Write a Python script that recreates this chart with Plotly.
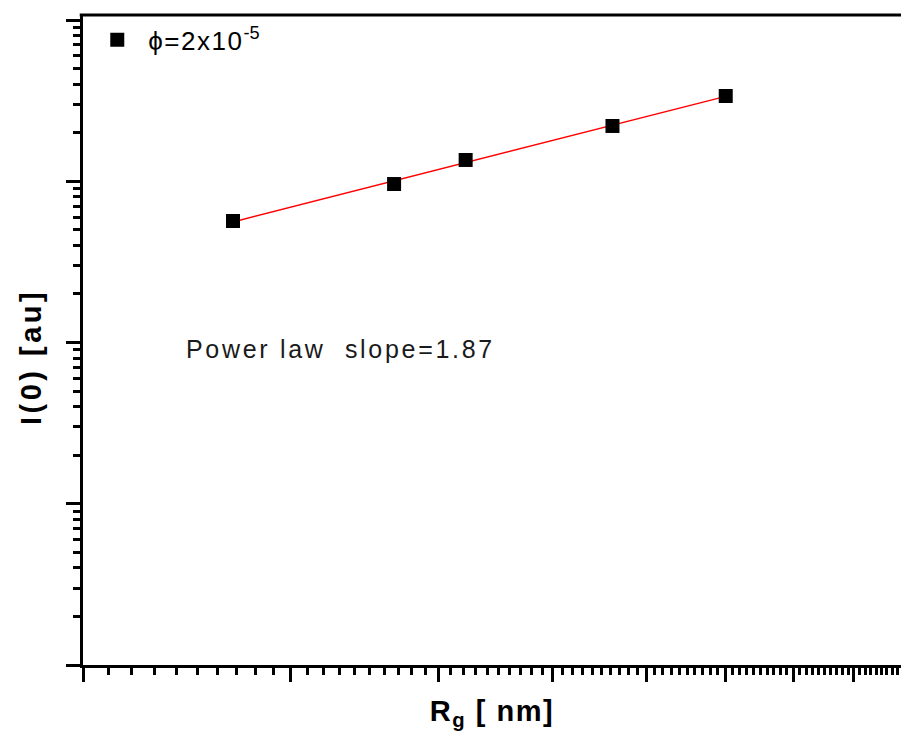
import numpy as np
import plotly.graph_objects as go

# Radius of gyration (nm) and forward scattering intensity I(0)
rg_nm = [2.68, 3.67, 4.22, 5.62, 7.01]
i0_au = [567, 961, 1355, 2202, 3378]

series_name = "<span style='letter-spacing:1.5px'>\u03d5=2x10</span><sup>-5</sup>"
fit_label = "<span style='letter-spacing:2.7px'>Power law\u00a0 slope=1.87</span>"
x_title = "<b><span style='letter-spacing:1.5px'>R<sub>g</sub> [ nm]</span></b>"
y_title = "<b><span style='letter-spacing:3.5px'>I(0) [au]</span></b>"

# power-law fit in log-log space
lx = np.log10(rg_nm)
ly = np.log10(i0_au)
p = np.polyfit(lx, ly, 1)
fit_x = np.array([rg_nm[0], rg_nm[-1]])
fit_y = 10 ** np.polyval(p, np.log10(fit_x))

fig = go.Figure()
fig.add_trace(go.Scatter(
    x=fit_x, y=fit_y, mode="lines",
    line=dict(color="#ff0000", width=1.5),
    showlegend=False, hoverinfo="skip",
))
fig.add_trace(go.Scatter(
    x=rg_nm, y=i0_au, mode="markers", name=series_name,
    marker=dict(symbol="square", size=14, color="black"),
))

x_major = list(range(2, 11))
x_minor = [round(m + k / 10, 1) for m in range(2, 10) for k in range(1, 10)]
y_major = [10 ** k for k in range(0, 5)]
y_minor = [m * 10 ** k for k in range(0, 4) for m in range(2, 10)]

axis_common = dict(
    type="log", showgrid=False, zeroline=False,
    showline=True, linecolor="black", linewidth=3,
    ticks="outside", ticklen=14, tickwidth=3, tickcolor="black",
    showticklabels=False,
)

fig.update_layout(
    width=901, height=739,
    margin=dict(l=83, r=0, t=15, b=74),
    paper_bgcolor="white", plot_bgcolor="white",
    font=dict(family="Liberation Sans, Arial, sans-serif", color="black"),
    xaxis=dict(
        **axis_common,
        range=[np.log10(2), np.log10(2) + 818 / 1180],
        tickmode="array", tickvals=x_major,
        minor=dict(tickmode="array", tickvals=x_minor, ticks="outside",
                   ticklen=7, tickwidth=3, tickcolor="black", showgrid=False),
        title=dict(text=x_title, font=dict(size=29), standoff=20),
    ),
    yaxis=dict(
        **axis_common,
        range=[0, 4.031],
        tickmode="array", tickvals=y_major,
        minor=dict(tickmode="array", tickvals=y_minor, ticks="outside",
                   ticklen=7, tickwidth=3, tickcolor="black", showgrid=False),
    ),
    showlegend=True,
    legend=dict(
        x=0.004, y=0.998, xanchor="left", yanchor="top",
        bgcolor="rgba(0,0,0,0)", borderwidth=0, itemwidth=52,
        font=dict(size=26, family="Liberation Sans, Arial, sans-serif"),
    ),
    shapes=[dict(type="line", xref="paper", yref="paper",
                 x0=-0.004, x1=1, y0=1, y1=1,
                 line=dict(color="black", width=3))],
    annotations=[
        dict(text=fit_label, xref="paper", yref="paper",
             x=(184 - 83) / 818, y=0.486, xanchor="left", yanchor="middle",
             showarrow=False, font=dict(size=25, color="#1a1a1a")),
        dict(text=y_title, xref="paper", yref="paper",
             x=(31 - 83) / 818, y=(665 - 357) / 650, xanchor="center", yanchor="middle",
             textangle=-90, showarrow=False, font=dict(size=29, color="black")),
    ],
)

fig.write_html("out.html")
